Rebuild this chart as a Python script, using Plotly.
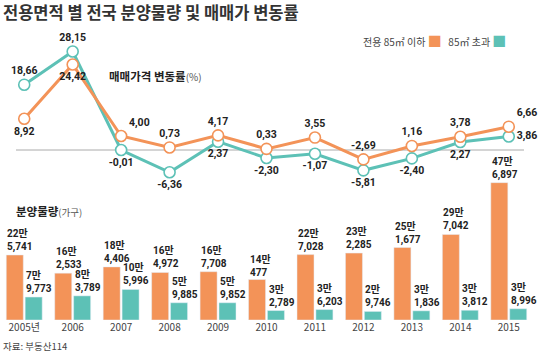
import plotly.graph_objects as go

years = ["2005년", "2006", "2007", "2008", "2009", "2010", "2011", "2012", "2013", "2014", "2015"]
price_small = [8.92, 24.42, 4.00, 0.73, 4.17, 0.33, 3.55, -2.69, 1.16, 3.78, 6.66]
price_large = [18.66, 28.15, -0.01, -6.36, 2.37, -2.30, -1.07, -5.81, -2.40, 2.27, 3.86]
supply_small = [225741, 162533, 184406, 164972, 167708, 140477, 227028, 232285, 251677, 297042, 476897]
supply_large = [79773, 83789, 105996, 59885, 59852, 32789, 36203, 29746, 31836, 33812, 38996]

ORANGE = "#F39358"
TEAL = "#5DC1B6"
FONT = "Roboto, 'Noto Sans CJK KR', sans-serif"
KFONT = "'Noto Sans CJK KR', sans-serif"

W, H = 540, 357
ML, MR = 0, 7
PW = W - ML - MR

xs = list(range(len(years)))

def fmt_pct(v):
    return f"{v:.2f}".replace(".", ",")

def fmt_units(v):
    return f"{v // 10000}만<br>{v % 10000:,}"

pos_small = ["bottom center", "bottom center", "top right", "top center", "top center", "top center",
             "top center", "top center", "top center", "top center", "top right"]
pos_large = ["top center", "top center", "bottom center", "bottom center", "bottom center", "bottom center",
             "bottom center", "bottom center", "bottom center", "bottom center", "middle right"]

fig = go.Figure()

fig.add_trace(go.Bar(x=xs, y=supply_small, marker_color=ORANGE, name="전용 85㎡ 이하",
                     yaxis="y", hoverinfo="skip"))
fig.add_trace(go.Bar(x=xs, y=supply_large, marker_color=TEAL, name="85㎡ 초과",
                     yaxis="y", hoverinfo="skip"))

fig.add_trace(go.Scatter(x=xs, y=price_large, yaxis="y2", mode="lines+markers+text",
                         line=dict(color=TEAL, width=3),
                         marker=dict(size=11, color="white", line=dict(color=TEAL, width=1.6)),
                         text=[fmt_pct(v) for v in price_large], textposition=pos_large,
                         textfont=dict(family=FONT, size=10.5, color="#222", weight="bold"),
                         cliponaxis=False, hoverinfo="skip"))
fig.add_trace(go.Scatter(x=xs, y=price_small, yaxis="y2", mode="lines+markers+text",
                         line=dict(color=ORANGE, width=3),
                         marker=dict(size=11, color="white", line=dict(color=ORANGE, width=1.6)),
                         text=[fmt_pct(v) for v in price_small], textposition=pos_small,
                         textfont=dict(family=FONT, size=10.5, color="#222", weight="bold"),
                         cliponaxis=False, hoverinfo="skip"))

annotations = []
for i, v in enumerate(supply_small):
    annotations.append(dict(x=i, y=v, xref="x", yref="y", text=fmt_units(v), showarrow=False,
                            xanchor="left", yanchor="bottom", align="left", xshift=-19, yshift=0,
                            font=dict(family=FONT, size=10, color="#222", weight="bold")))
for i, v in enumerate(supply_large):
    annotations.append(dict(x=i, y=v, xref="x", yref="y", text=fmt_units(v), showarrow=False,
                            xanchor="left", yanchor="bottom", align="left", xshift=0, yshift=0,
                            font=dict(family=FONT, size=10, color="#222", weight="bold")))

def px_y(p):
    return 1 - p / H

def px_x(p):
    return (p - ML) / PW

annotations += [
    dict(x=px_x(1), y=px_y(12), xref="paper", yref="paper", xanchor="left", yanchor="middle",
         text="<b>전용면적 별 전국 분양물량 및 매매가 변동률</b>", showarrow=False,
         font=dict(family=KFONT, size=16.5, color="#333")),
    dict(x=px_x(508), y=px_y(40), xref="paper", yref="paper", xanchor="right", yanchor="middle",
         text=f"전용 85㎡ 이하 <span style='color:{ORANGE};font-size:14px'>■</span>&nbsp;&nbsp;&nbsp;85㎡ 초과 <span style='color:{TEAL};font-size:14px'>■</span>",
         showarrow=False, font=dict(family=KFONT, size=10, color="#444")),
    dict(x=px_x(107), y=px_y(76), xref="paper", yref="paper", xanchor="left", yanchor="middle",
         text="<b>매매가격 변동률</b><span style='font-size:10px;color:#555'>(%)</span>",
         showarrow=False, font=dict(family=KFONT, size=11.5, color="#222")),
    dict(x=px_x(14), y=px_y(211), xref="paper", yref="paper", xanchor="left", yanchor="middle",
         text="<b>분양물량</b><span style='font-size:9.5px;color:#555'>(가구)</span>",
         showarrow=False, font=dict(family=KFONT, size=11.5, color="#222")),
    dict(x=px_x(1), y=px_y(346), xref="paper", yref="paper", xanchor="left", yanchor="middle",
         text="자료: 부동산114", showarrow=False, font=dict(family=KFONT, size=9.5, color="#444")),
]

fig.update_layout(
    width=W, height=H,
    margin=dict(l=ML, r=MR, t=0, b=0, autoexpand=False),
    paper_bgcolor="white", plot_bgcolor="rgba(0,0,0,0)",
    showlegend=False,
    barmode="group", bargap=0.22, bargroupgap=0.1,
    xaxis=dict(range=[-0.5, len(years) - 0.5], tickmode="array", tickvals=xs, ticktext=years,
               showgrid=False, zeroline=False, showline=False, ticks="", anchor="y",
               tickfont=dict(family=KFONT, size=10, color="#444"), automargin=False),
    yaxis=dict(domain=[px_y(320), px_y(170)], range=[0, 520833], visible=False, fixedrange=True),
    yaxis2=dict(domain=[px_y(180), px_y(40)], range=[-30 / 3.5, 110 / 3.5], visible=False,
                anchor="x", fixedrange=True),
    shapes=[dict(type="line", xref="paper", yref="y2", x0=px_x(16), x1=px_x(524), y0=0, y1=0,
                 line=dict(color="#aaaaaa", width=1), layer="below")],
    annotations=annotations,
)

fig.write_html("out.html", config={"displayModeBar": False},
               post_script="document.body.style.margin='0';document.body.style.overflow='hidden';")
